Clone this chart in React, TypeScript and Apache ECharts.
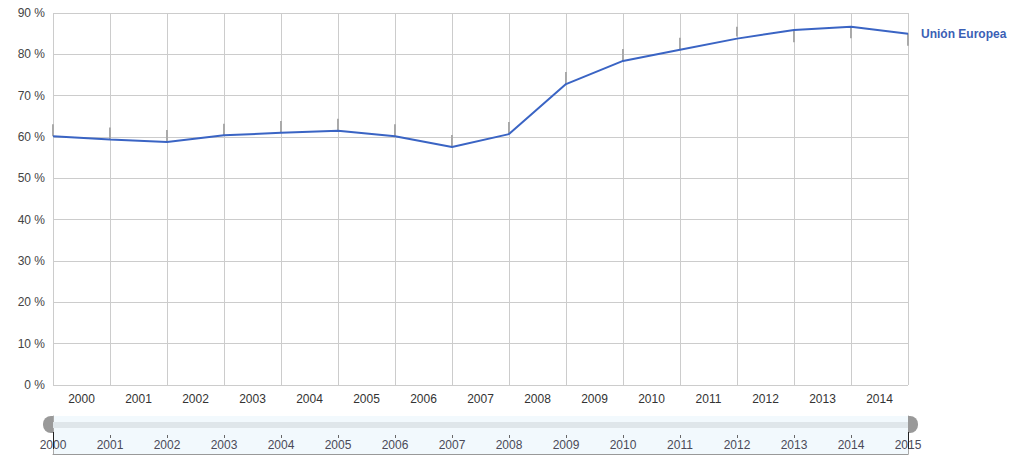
import React, { useEffect, useRef } from "react";
import * as echarts from "echarts";

const years = [2000, 2001, 2002, 2003, 2004, 2005, 2006, 2007, 2008, 2009, 2010, 2011, 2012, 2013, 2014, 2015];
const bandLabels = ["2000", "2001", "2002", "2003", "2004", "2005", "2006", "2007", "2008", "2009", "2010", "2011", "2012", "2013", "2014"];
const ueValues = [60.2, 59.4, 58.8, 60.4, 61.0, 61.5, 60.2, 57.6, 60.7, 72.8, 78.4, 81.1, 83.8, 85.9, 86.7, 85.0];
const ghostLow = [60.2, 59.4, 58.8, 60.4, 61.0, 61.5, 60.2, 57.6, 60.7, 72.8, 78.4, 81.1, 84.3, 82.9, 83.9, 82.1];
const ghostHigh = [63.1, 62.3, 61.7, 63.2, 63.9, 64.4, 63.1, 60.5, 63.6, 75.7, 81.3, 84.0, 86.7, 85.9, 86.7, 85.1];
const yTicks = { min: 0, max: 90, interval: 10 };
const seriesName = "Unión Europea";

const FONT = "'Liberation Sans', Arial, sans-serif";

export default function App() {
  const ref = useRef<HTMLDivElement>(null);
  useEffect(() => {
    if (!ref.current) return;
    const chart = echarts.init(ref.current, null, { renderer: "svg" });
    const W = 1013;
    const gl = 53;
    const gr = 105;
    const plotRight = W - gr;
    const tlTop = 416;
    const tlBottomPx = 454;
    chart.setOption({
      animation: false,
      backgroundColor: "#ffffff",
      textStyle: { fontFamily: FONT },
      grid: [
        { left: gl, right: gr, top: 13, bottom: 80, outerBoundsMode: "none" },
        {
          left: gl, right: gr, top: tlTop, bottom: 465 - tlBottomPx,
          show: true, backgroundColor: "#f2f9fd", borderWidth: 0, outerBoundsMode: "none",
        },
      ],
      xAxis: [
        {
          type: "value", gridIndex: 0, min: 2000, max: 2015, interval: 1, position: "bottom",
          axisLine: { show: false }, axisTick: { show: false }, axisLabel: { show: false },
          splitLine: { show: true, lineStyle: { color: "#cccccc", width: 1 } },
        },
        {
          type: "category", gridIndex: 0, data: bandLabels, boundaryGap: true, position: "bottom",
          axisLine: { show: false }, axisTick: { show: false }, splitLine: { show: false },
          axisLabel: { color: "#333333", fontSize: 12, fontFamily: FONT, margin: 8 },
        },
        {
          type: "value", gridIndex: 1, min: 2000, max: 2015, interval: 1, position: "bottom",
          axisLine: { show: true, lineStyle: { color: "#999999", width: 1 } },
          axisTick: { show: false }, splitLine: { show: false },
          axisLabel: {
            inside: true, margin: 3, color: "#4a4a58", fontSize: 12, fontFamily: FONT,
            formatter: (v: number) => String(v),
            showMinLabel: true, showMaxLabel: true,
          },
        },
        {
          type: "value", gridIndex: 1, min: 2000, max: 2015, interval: 1, position: "top", offset: -22,
          axisLine: { show: false }, splitLine: { show: false }, axisLabel: { show: false },
          axisTick: { show: true, length: 3, lineStyle: { color: "#666666", width: 1 } },
        },
      ],
      yAxis: [
        {
          type: "value", gridIndex: 0, min: yTicks.min, max: yTicks.max, interval: yTicks.interval,
          axisLine: { show: false }, axisTick: { show: false },
          splitLine: { show: true, lineStyle: { color: "#cccccc", width: 1 } },
          axisLabel: { formatter: "{value} %", color: "#444444", fontSize: 12, fontFamily: FONT, margin: 8 },
        },
        {
          type: "value", gridIndex: 1, min: 0, max: 1, position: "left",
          axisLine: { show: true, lineStyle: { color: "#aaaaaa", width: 1 } },
          axisTick: { show: false }, axisLabel: { show: false }, splitLine: { show: false },
        },
        {
          type: "value", gridIndex: 1, min: 0, max: 1, position: "right",
          axisLine: { show: true, lineStyle: { color: "#aaaaaa", width: 1 } },
          axisTick: { show: false }, axisLabel: { show: false }, splitLine: { show: false },
        },
      ],
      graphic: [
        { type: "rect", shape: { x: gl, y: 422, width: plotRight - gl, height: 6 }, style: { fill: "#dfe6ea" }, z: 10 },
        { type: "rect", shape: { x: gl - 10, y: 416, width: 10, height: 17, r: [8, 0, 0, 8] }, style: { fill: "#999999" }, z: 11 },
        { type: "rect", shape: { x: plotRight, y: 416, width: 10, height: 17, r: [0, 8, 8, 0] }, style: { fill: "#999999" }, z: 11 },
        { type: "line", shape: { x1: gl + 0.5, y1: 432, x2: gl + 0.5, y2: 449 }, style: { stroke: "#222222", lineWidth: 1 }, z: 11 },
        { type: "line", shape: { x1: plotRight + 0.5, y1: 432, x2: plotRight + 0.5, y2: 449 }, style: { stroke: "#222222", lineWidth: 1 }, z: 11 },
      ],
      series: [
        {
          type: "custom",
          xAxisIndex: 0, yAxisIndex: 0,
          data: years.map((y, i) => [y, ghostLow[i], ghostHigh[i]]),
          renderItem: (params: any, api: any) => {
            const p1 = api.coord([api.value(0), api.value(1)]);
            const p2 = api.coord([api.value(0), api.value(2)]);
            return {
              type: "line",
              shape: { x1: p1[0], y1: p1[1], x2: p2[0], y2: p2[1] },
              style: { stroke: "#aaaaaa", lineWidth: 2 },
            };
          },
          z: 2,
          silent: true,
        },
        {
          type: "line",
          name: seriesName,
          xAxisIndex: 0, yAxisIndex: 0,
          data: years.map((y, i) => [y, ueValues[i]]),
          showSymbol: false,
          lineStyle: { color: "#3a64c4", width: 2 },
          itemStyle: { color: "#3a64c4" },
          z: 3,
          endLabel: {
            show: true,
            formatter: seriesName,
            distance: 13,
            color: "#3b5fb5",
            fontSize: 12,
            fontWeight: "bold",
            fontFamily: FONT,
          },
        },
      ],
    });
    return () => chart.dispose();
  }, []);
  return (
    <div
      ref={ref}
      style={{ position: "absolute", left: 0, top: 0, width: 1013, height: 465 }}
    />
  );
}
